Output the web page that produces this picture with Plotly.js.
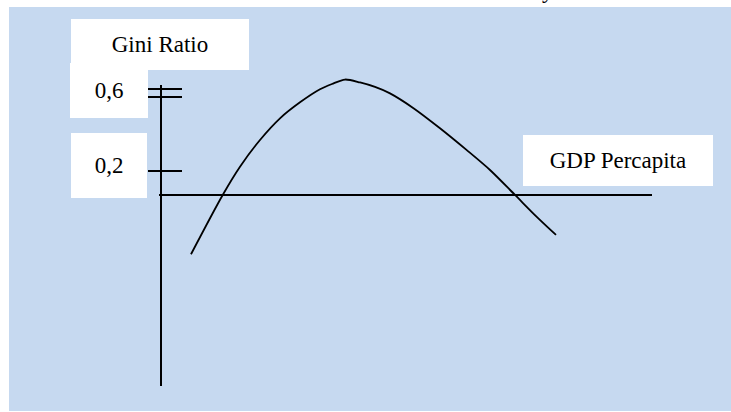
<!DOCTYPE html>
<html>
<head>
<meta charset="utf-8">
<script src="https://cdn.plot.ly/plotly-3.0.1.min.js"></script>
<style>
  html, body { margin: 0; padding: 0; background: #fff; }
  #chart { width: 731px; height: 412px; }
</style>
</head>
<body>
<div id="chart"></div>
<script>
// Kuznets curve: GDP per capita (arbitrary units) vs Gini ratio
const gdp = [0.62, 1.254, 1.6, 2.0, 2.4, 2.8, 3.2, 3.44, 3.7, 4.0, 4.3, 4.6, 5.07, 5.6, 6.13, 6.6, 7.1, 7.53, 7.92];
const gini = [-0.227, 0.077, 0.222, 0.359, 0.47, 0.552, 0.619, 0.646, 0.669, 0.654, 0.631, 0.598, 0.522, 0.419, 0.308, 0.205, 0.077, -0.034, -0.128];

// hand-drawn axes
const yAxisX = 0.02;
const yAxisSpan = [-0.903, 0.641];
const xAxisGini = 0.077;
const xAxisSpan = [-0.02, 9.84];

// tick marks on the Gini axis
const tickVals = [0.6, 0.2];
const tickLabels = ['0,6', '0,2'];
const tickSpan = [-0.24, 0.44];

const axisLabels = ['Gini Ratio', 'GDP Percapita'];

const ink = '#000';
const traces = [];

traces.push({
    x: gdp, y: gini, type: 'scatter', mode: 'lines',
    line: { color: ink, width: 1.8, shape: 'spline', smoothing: 0.8 },
    hoverinfo: 'skip'
});
traces.push({
    x: [yAxisX, yAxisX], y: yAxisSpan, type: 'scatter', mode: 'lines',
    line: { color: ink, width: 2 }, hoverinfo: 'skip'
});
traces.push({
    x: xAxisSpan, y: [xAxisGini, xAxisGini], type: 'scatter', mode: 'lines',
    line: { color: ink, width: 2 }, hoverinfo: 'skip'
});

// the 0,6 tick is drawn as a double stroke
tickVals.forEach((v, i) => {
    const offsets = i === 0 ? [0.021, -0.021] : [0];
    offsets.forEach(o => {
        traces.push({
            x: tickSpan, y: [v + o, v + o], type: 'scatter', mode: 'lines',
            line: { color: ink, width: 2 }, hoverinfo: 'skip'
        });
    });
});

const labelFont = { family: 'Liberation Serif', size: 23, color: ink };
const box = (text, x, y, w, h) => ({
    text: text, x: x, y: y, xref: 'x', yref: 'y', showarrow: false,
    width: w, height: h, bgcolor: '#fff', borderwidth: 0, borderpad: 0,
    font: labelFont, align: 'center', valign: 'middle'
});

const annotations = [
    box(axisLabels[0], 0, 0.849, 178, 51),
    box(tickLabels[0], -1.02, 0.613, 78, 55),
    box(tickLabels[1], -1.02, 0.228, 76, 65),
    box(axisLabels[1], 9.16, 0.254, 190, 51),
    // tail of the caption line above the figure
    {
        text: 'y', xref: 'paper', yref: 'paper', x: 0.746, y: 1.004,
        xanchor: 'center', yanchor: 'bottom', showarrow: false, font: labelFont
    }
];

const layout = {
    width: 731, height: 412,
    margin: { l: 9, r: 0, t: 7, b: 1 },
    paper_bgcolor: '#fff',
    plot_bgcolor: '#c6d9f0',
    showlegend: false,
    xaxis: { range: [-3.02, 11.42], visible: false, fixedrange: true },
    yaxis: { range: [-1.031, 1.041], visible: false, fixedrange: true },
    annotations: annotations
};

Plotly.newPlot('chart', traces, layout, { displayModeBar: false, staticPlot: true });
</script>
</body>
</html>
